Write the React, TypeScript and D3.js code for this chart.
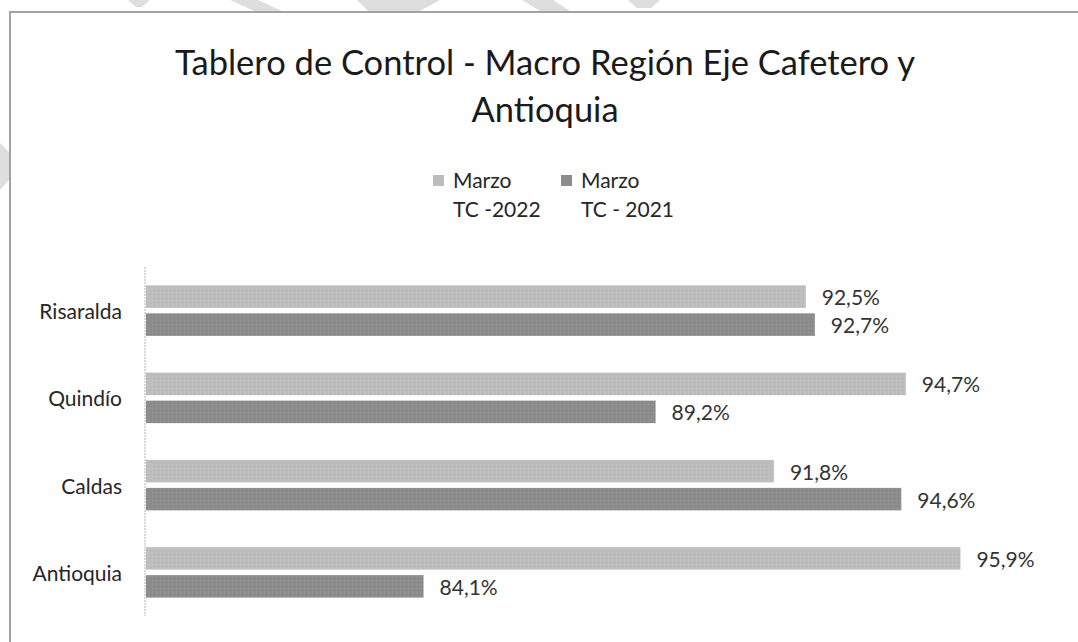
import React from "react";
import * as d3 from "d3";

const categories = ["Risaralda", "Quindío", "Caldas", "Antioquia"];
const series2022 = [92.5, 94.7, 91.8, 95.9];
const series2021 = [92.7, 89.2, 94.6, 84.1];
const seriesNames = [["Marzo", "TC -2022"], ["Marzo", "TC - 2021"]];
const titleLines = ["Tablero de Control - Macro Región Eje Cafetero y", "Antioquia"];

const W = 1078;
const H = 642;
const FONT = "Lato, 'Open Sans', sans-serif";

export default function App() {
  const x = d3.scaleLinear().domain([78, 98]).range([146, 1056]);
  const y = d3.scaleBand<string>().domain(categories).range([267, 616]);
  const barH = 22.5;
  const gap = 5.5;
  const fmt = (v: number) => v.toFixed(1).replace(".", ",") + "%";
  const light = "url(#patLight)";
  const dark = "url(#patDark)";

  const water = [
    "128,0 150,0 142,7 136,7",
    "230,0 258,0 282,11 254,11",
    "357,0 440,0 420,11 368,11",
    "522,0 553,0 570,11 540,11",
    "628,0 660,0 651,8 637,8",
    "0,143 9,152 9,180 0,190",
  ];

  return (
    <svg width={W} height={H} style={{ position: "absolute", left: 0, top: 0 }} fontFamily={FONT}>
      <defs>
        <pattern id="patLight" width="4" height="4" patternUnits="userSpaceOnUse">
          <rect width="4" height="4" fill="#bdbdbd" />
          <rect x="0" y="0" width="1" height="1" fill="#c6c6c6" />
          <rect x="2" y="2" width="1" height="1" fill="#b3b3b3" />
        </pattern>
        <pattern id="patDark" width="4" height="4" patternUnits="userSpaceOnUse">
          <rect width="4" height="4" fill="#8c8c8c" />
          <rect x="0" y="0" width="1" height="1" fill="#969696" />
          <rect x="2" y="2" width="1" height="1" fill="#838383" />
        </pattern>
      </defs>
      <rect width={W} height={H} fill="#ffffff" />
      {water.map((p, i) => (
        <polygon key={i} points={p} fill="#dedede" />
      ))}
      <rect x={10} y={12} width={W} height={H} fill="#ffffff" stroke="#a3a3a3" strokeWidth={2} />

      {titleLines.map((t, i) => (
        <text key={i} x={545} y={75 + i * 47} textAnchor="middle" fontSize={34.5} fill="#1a1a1a">
          {t}
        </text>
      ))}

      {seriesNames.map((s, i) => {
        const lx = i === 0 ? 433 : 561;
        return (
          <g key={i}>
            <rect x={lx} y={175} width={11} height={11} fill={i === 0 ? "#bdbdbd" : "#8c8c8c"} />
            <text x={lx + 20} y={188} fontSize={21} fill="#262626">{s[0]}</text>
            <text x={lx + 20} y={217} fontSize={21} fill="#262626">{s[1]}</text>
          </g>
        );
      })}

      <line x1={145} x2={145} y1={267} y2={616} stroke="#cccccc" strokeWidth={1.5} strokeDasharray="2,1" />

      {categories.map((c, i) => {
        const band = y(c)!;
        const cy = band + y.bandwidth() / 2;
        const y1 = cy - gap / 2 - barH;
        const y2 = cy + gap / 2;
        return (
          <g key={c}>
            <text x={122} y={cy} textAnchor="end" dominantBaseline="central" fontSize={21} fill="#262626">{c}</text>
            <rect x={x(78)} y={y1} width={x(series2022[i]) - x(78)} height={barH} fill={light} />
            <rect x={x(78)} y={y2} width={x(series2021[i]) - x(78)} height={barH} fill={dark} />
            <text x={x(series2022[i]) + 16} y={y1 + barH / 2} dominantBaseline="central" fontSize={21} fill="#333333">
              {fmt(series2022[i])}
            </text>
            <text x={x(series2021[i]) + 16} y={y2 + barH / 2} dominantBaseline="central" fontSize={21} fill="#333333">
              {fmt(series2021[i])}
            </text>
          </g>
        );
      })}
    </svg>
  );
}
